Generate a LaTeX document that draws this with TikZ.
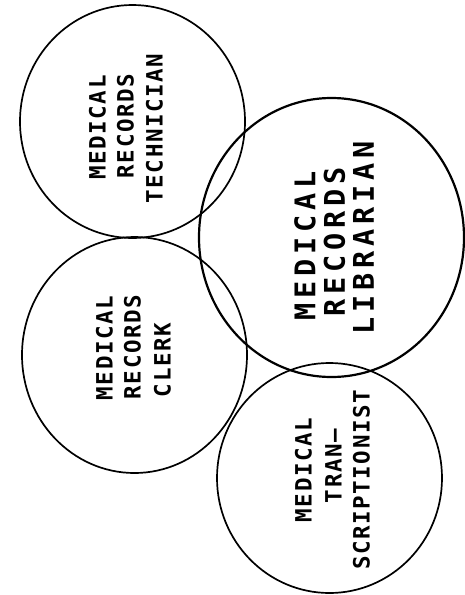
\documentclass[tikz,border=0pt]{standalone}
\usepackage{fontspec}
\usetikzlibrary{shapes.geometric}
\newfontfamily\labfont[LetterSpace=7]{DejaVu Sans Mono}
\newfontfamily\bigfont[LetterSpace=17]{DejaVu Sans Mono}
\tikzset{
  ring/.style={draw=black, ellipse, inner sep=0pt, line width=1.7pt},
  bigring/.style={ring, line width=2.2pt},
  lbl/.style={rotate=90, inner sep=0pt, anchor=center, font=\labfont\bfseries\fontsize{22.5}{22.5}\selectfont},
  biglbl/.style={rotate=90, inner sep=0pt, anchor=center, font=\bigfont\bfseries\fontsize{28.5}{28.5}\selectfont}
}
\begin{document}
\begin{tikzpicture}[x=1pt,y=-1pt]
\useasboundingbox[fill=white] (0,0) rectangle (465,595);
% circles
\node[ring, minimum width=225pt, minimum height=233pt] (tech) at (132.5,121.5) {};
\node[bigring, minimum width=265pt, minimum height=279pt] (lib) at (331.5,237.5) {};
\node[ring, minimum width=225pt, minimum height=236pt] (clerk) at (134.5,355) {};
\node[ring, minimum width=225pt, minimum height=230pt] (trans) at (329.5,478) {};
% technician
\node[lbl] (t1) at (97.5,127.5) {MEDICAL};
\node[lbl] (t2) at (125.5,126) {RECORDS};
\node[lbl] (t3) at (154.5,128.5) {TECHNICIAN};
% librarian
\node[biglbl] (l1) at (305,246) {MEDICAL};
\node[biglbl] (l2) at (334.5,242) {RECORDS};
\node[biglbl] (l3) at (363.5,238) {LIBRARIAN};
% clerk
\node[lbl] (c1) at (104.5,348) {MEDICAL};
\node[lbl] (c2) at (132.5,347) {RECORDS};
\node[lbl] (c3) at (162.5,360) {CLERK};
% transcriptionist
\node[lbl] (s1) at (303.5,470) {MEDICAL};
\node[lbl] (s2) at (333.5,466) {TRAN–};
\node[lbl] (s3) at (361.5,480) {SCRIPTIONIST};
\end{tikzpicture}
\end{document}
